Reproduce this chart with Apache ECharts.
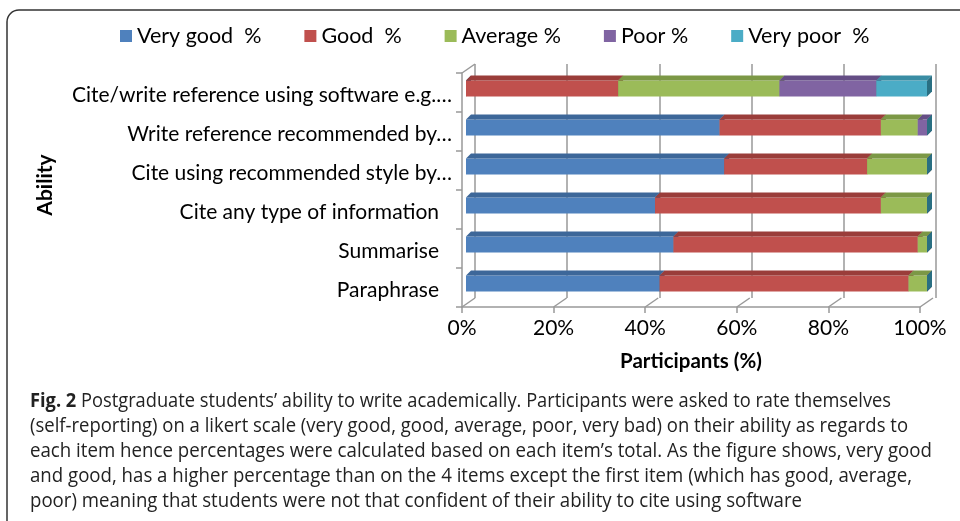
<!DOCTYPE html>
<html><head><meta charset="utf-8">
<script src="https://cdn.jsdelivr.net/npm/echarts@6/dist/echarts.min.js"></script>
<style>html,body{margin:0;padding:0;background:#fff}#c{width:960px;height:521px}</style>
</head><body><div id="c"></div>
<script>
const categories = ['Cite/write reference using software e.g.\u2026', 'Write reference recommended by\u2026', 'Cite using recommended style by\u2026', 'Cite any type of information', 'Summarise', 'Paraphrase'];
const seriesNames = ['Very good  %', 'Good  %', 'Average %', 'Poor %', 'Very poor  %'];
const veryGood = [0, 55, 56, 41, 45, 42];
const good = [33, 35, 31, 49, 53, 54];
const average = [35, 8, 13, 10, 2, 4];
const poor = [21, 2, 0, 0, 0, 0];
const veryPoor = [11, 0, 0, 0, 0, 0];
const xTicks = [0, 20, 40, 60, 80, 100];
const captionLines = [
  'Postgraduate students\u2019 ability to write academically. Participants were asked to rate themselves',
  '(self-reporting) on a likert scale (very good, good, average, poor, very bad) on their ability as regards to',
  'each item hence percentages were calculated based on each item\u2019s total. As the figure shows, very good',
  'and good, has a higher percentage than on the 4 items except the first item (which has good, average,',
  'poor) meaning that students were not that confident of their ability to cite using software'
];
const captionLabel = 'Fig. 2';

const colors = ['#4F81BD', '#C0504D', '#9BBB59', '#8064A2', '#4BACC6'];
const topColors = ['#3D6799', '#9A3D3A', '#7C9846', '#654E85', '#3A8DA4'];
const sideColors = ['#2F5280', '#7F2E2B', '#617A35', '#4F3B6B', '#2A6F82'];
const FONT = 'Lato, "Liberation Sans", sans-serif';
const CAPFONT = '"Open Sans", "Noto Sans", sans-serif';

const allVals = [veryGood, good, average, poor, veryPoor];
const cum = categories.map(() => 0);
const barSeries = allVals.map((vals, si) => {
  const data = vals.map((v, c) => { const s = cum[c]; cum[c] += v; return [s, s + v, c]; });
  return {
    type: 'custom', name: seriesNames[si], xAxisIndex: 2, yAxisIndex: 2,
    itemStyle: { color: colors[si] },
    encode: { x: [0, 1], y: 2 },
    data: data,
    renderItem: function (params, api) {
      const s = api.value(0), e = api.value(1), c = api.value(2);
      const p0 = api.coord([s, c]), p1 = api.coord([e, c]);
      const h = 16, d = 5;
      const ft = p0[1] - 12;
      const x0 = p0[0], x1 = p1[0];
      const ch = [];
      if (x1 > x0) {
        ch.push({ type: 'rect', shape: { x: x0, y: ft, width: x1 - x0, height: h }, style: { fill: colors[si] } });
        ch.push({ type: 'polygon', shape: { points: [[x0, ft], [x0 + d, ft - d], [x1 + d, ft - d], [x1, ft]] }, style: { fill: topColors[si] } });
      }
      ch.push({ type: 'polygon', shape: { points: [[x1, ft], [x1 + d, ft - d], [x1 + d, ft + h - d], [x1, ft + h]] }, style: { fill: sideColors[si] } });
      return { type: 'group', children: ch };
    }
  };
});

// caption width fitting
const mc = document.createElement('canvas').getContext('2d');
const capSize = 19.5;
const capTargets = [861, 878, 902, 882, 772];
const capX = 30, capY0 = 401, capDy = 25;
const captionGraphics = captionLines.map((t, i) => {
  let w;
  mc.font = capSize + 'px ' + CAPFONT;
  w = mc.measureText((i === 0 ? ' ' : '') + t).width;
  let text;
  if (i === 0) {
    mc.font = 'bold ' + capSize + 'px ' + CAPFONT;
    w += mc.measureText(captionLabel).width;
    text = '{b|' + captionLabel + '} ' + t;
  } else text = t;
  return {
    type: 'text', x: capX, y: capY0 + i * capDy, scaleX: capTargets[i] / w, originX: 0,
    style: { text: text, font: capSize + 'px ' + CAPFONT, fill: '#222', verticalAlign: 'middle', align: 'left',
      rich: { b: { fontWeight: 'bold', fontSize: capSize, fontFamily: CAPFONT, fill: '#222' } } }
  };
});

const chart = echarts.init(document.getElementById('c'));
chart.setOption({
  animation: false,
  backgroundColor: '#fff',
  legend: {
    data: seriesNames, left: 115, top: 20, itemWidth: 12, itemHeight: 12, itemGap: 43, icon: 'rect',
    textStyle: { fontFamily: FONT, fontSize: 21.5, color: '#000', lineHeight: 22 }
  },
  grid: [
    { left: 462, top: 73, width: 458, height: 234 },
    { left: 475, top: 64, width: 461, height: 234 },
    { left: 466, top: 73, width: 461, height: 234 }
  ],
  xAxis: [
    { type: 'value', gridIndex: 0, min: 0, max: 100, interval: 20,
      axisLine: { show: true, lineStyle: { color: '#999', width: 1.5 } },
      axisTick: { show: true, length: 6, lineStyle: { color: '#999', width: 1.5 } },
      splitLine: { show: false },
      axisLabel: { formatter: '{value}%', fontFamily: FONT, fontSize: 21, color: '#000', margin: 11 },
      name: 'Participants (%)', nameLocation: 'middle', nameGap: 44,
      nameTextStyle: { fontFamily: FONT, fontSize: 20.5, fontWeight: 'bold', color: '#000' } },
    { type: 'value', gridIndex: 1, min: 0, max: 100, interval: 20,
      axisLine: { show: false }, axisTick: { show: false }, axisLabel: { show: false },
      splitLine: { show: true, lineStyle: { color: '#999', width: 1.5 } } },
    { type: 'value', gridIndex: 2, min: 0, max: 100, show: false }
  ],
  yAxis: [
    { type: 'category', gridIndex: 0, data: categories, inverse: true,
      axisLine: { show: true, lineStyle: { color: '#999', width: 1.5 } },
      axisTick: { show: true, length: 6, lineStyle: { color: '#999', width: 1.5 } },
      axisLabel: { fontFamily: FONT, fontSize: 21, color: '#000', margin: 10, padding: [5, 0, 0, 0],
        formatter: function (v) { return /\u2026$/.test(v) ? v : '{p|' + v + '}'; },
        rich: { p: { fontFamily: FONT, fontSize: 21, color: '#000', padding: [0, 13, 0, 0] } } },
      name: 'Ability', nameLocation: 'middle', nameGap: 406, nameRotate: 90,
      nameTextStyle: { fontFamily: FONT, fontSize: 21, fontWeight: 'bold', color: '#000', padding: [0, 0, 0, 10] } },
    { type: 'category', gridIndex: 1, data: categories, inverse: true, show: false },
    { type: 'category', gridIndex: 2, data: categories, inverse: true, show: false }
  ],
  series: [
    { type: 'custom', xAxisIndex: 0, yAxisIndex: 0, silent: true, data: xTicks.map(v => [v]), encode: { x: 0 },
      renderItem: function (params, api) {
        const cs = params.coordSys;
        const x = api.coord([api.value(0), 0])[0];
        const b = cs.y + cs.height;
        const ls = { stroke: '#999', lineWidth: 1.5 };
        const ch = [{ type: 'line', shape: { x1: x, y1: b, x2: x + 13, y2: b - 9 }, style: ls }];
        if (api.value(0) === 0) ch.push({ type: 'line', shape: { x1: x, y1: cs.y, x2: x + 13, y2: cs.y - 9 }, style: ls });
        return { type: 'group', children: ch };
      } }
  ].concat(barSeries),
  graphic: [
    { type: 'rect', shape: { x: 7, y: 10, width: 1000, height: 600, r: [12, 0, 0, 0] },
      style: { fill: 'none', stroke: '#333', lineWidth: 1.5 }, z: -1 }
  ].concat(captionGraphics)
});
</script></body></html>
